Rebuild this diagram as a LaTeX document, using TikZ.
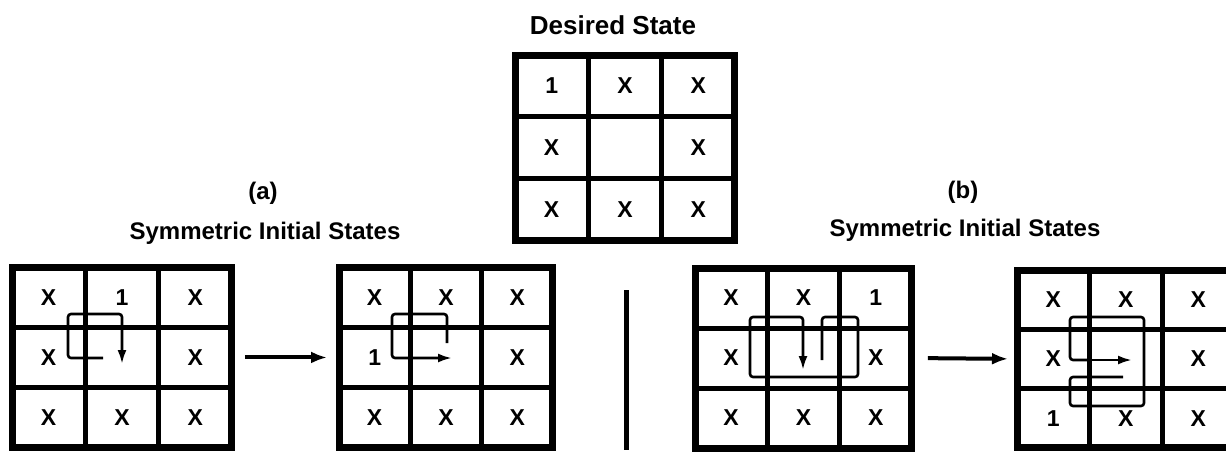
\documentclass[tikz,border=0pt]{standalone}
\usepackage{fontspec}
\setmainfont{Liberation Sans}
\usetikzlibrary{arrows.meta,positioning}

% one 3x3 board: name, left, top, cell width, cell height, the nine entries
\newcommand{\stategrid}[6]{%
  \foreach \lab [count=\i from 0] in {#6} {
    \pgfmathtruncatemacro{\gr}{div(\i,3)}
    \pgfmathtruncatemacro{\gc}{mod(\i,3)}
    \node[cell, minimum width=#4*0.5pt, minimum height=#5*0.5pt]
      (#1-\gr-\gc) at ({#2+(\gc+0.5)*#4},{#3+(\gr+0.5)*#5}) {\lab};
  }
  \draw[frame] (#1-0-0.north west) rectangle (#1-2-2.south east);
}

\begin{document}
\begin{tikzpicture}[x=0.5pt, y=-0.5pt,
    cell/.style={draw, line width=2.5pt, inner sep=0pt, outer sep=0pt,
      font=\fontsize{11.5}{12}\selectfont\bfseries},
    frame/.style={line width=3.5pt},
    route/.style={line width=1.3pt, rounded corners=1.5pt},
    routetip/.style={-{Latex[length=7pt,width=4.5pt]}},
    move/.style={line width=2pt, -{Latex[length=8pt,width=6pt]}},
    caption/.style={font=\fontsize{12}{14}\selectfont\bfseries}]
    \useasboundingbox (0,0) rectangle (1226,452);
    \clip (0,0) rectangle (1226,452);

    % Labels
    \node[caption, font=\fontsize{13}{15}\selectfont\bfseries] (goal-title) at (613,25) {Desired State};
    \node[caption] (a-tag) at (263,193) {(a)};
    \node[caption] (a-title) at (265,233) {Symmetric Initial States};
    \node[caption] (b-tag) at (963,192) {(b)};
    \node[caption] (b-title) at (965,230) {Symmetric Initial States};

    % Boards
    \stategrid{goal}{515}{55}{73.3}{61.7}{1,X,X,X,{},X,X,X,X}
    \stategrid{a1}{12}{267}{73.3}{60.3}{X,1,X,X,{},X,X,X,X}
    \stategrid{a2}{339}{267}{71.3}{60.3}{X,X,X,1,{},X,X,X,X}
    \stategrid{b1}{695}{268}{72.3}{60}{X,X,1,X,{},X,X,X,X}
    \stategrid{b2}{1017}{270}{72.5}{59.3}{X,X,X,X,{},X,1,X,X}

    % Routes inside the boards
    \draw[route, routetip] (103,358) -- (68,358) -- (68,314) -- (122,314) -- (122,364);
    \draw[route, routetip] (447,343) -- (447,314) -- (392,314) -- (392,358) -- (452,358);
    \draw[route, routetip] (822,360) -- (822,317) -- (858,317) -- (858,377)
        -- (750,377) -- (750,317) -- (803,317) -- (803,370);
    \draw[route] (1123,377) -- (1070,377) -- (1070,406) -- (1144,406) -- (1144,317)
        -- (1070,317) -- (1070,360) -- (1090,360);
    \draw[route, routetip] (1088,360) -- (1132,360);

    % Moves and divider
    \draw[move, shorten <=6.5pt, shorten >=6pt] (a1-1-2.east) -- (a2-1-0.west);
    \draw[move, shorten <=8pt, shorten >=4.5pt] (b1-1-2.east) -- (b2-1-0.west);
    \coordinate (divide-top) at (626,290);
    \coordinate (divide-bot) at (626,450);
    \draw[line width=2.5pt] (divide-top) -- (divide-bot);
\end{tikzpicture}
\end{document}
